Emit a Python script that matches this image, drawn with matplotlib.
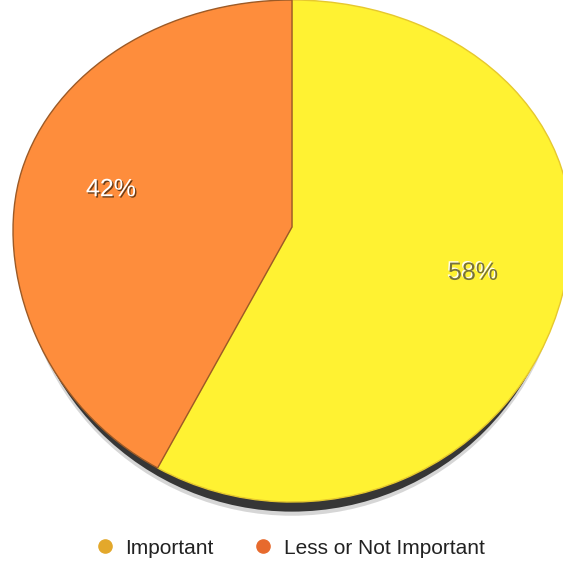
import matplotlib.pyplot as plt
import matplotlib.patches as mpatches
import matplotlib.patheffects as pe
from matplotlib.lines import Line2D
import numpy as np

labels = ['Important', 'Less or Not Important']
values = [58, 42]
slice_colors = ['#FFF232', '#FE8D3C']
edge_colors = ['#e6c82e', '#9c5a26']
legend_colors = ['#E3A82B', '#E76A2D']

plt.rcParams['font.family'] = ['Liberation Sans', 'DejaVu Sans']

fig = plt.figure(figsize=(5.63, 5.64), dpi=100)
ax = fig.add_axes([13 / 563, 1 - 502 / 564, 558 / 563, 502 / 564])

# tilted pie: the half nearer the viewer is stretched more than the far half
stretch = 275 / 227


def fwd(y):
    y = np.asarray(y, dtype=float)
    return np.where(y > 0, y, y * stretch)


def inv(y):
    y = np.asarray(y, dtype=float)
    return np.where(y > 0, y, y / stretch)


# drop shadow under the disc, only peeking out at the front
for dy, a in [(-0.05, 0.2), (-0.035, 1.0)]:
    ax.add_patch(mpatches.Ellipse((0, dy), 1.955, 2.0, facecolor='#363636', edgecolor='none',
                                  alpha=a, zorder=0, clip_on=False))

wedges, texts, autotexts = ax.pie(
    values, colors=slice_colors, startangle=90, counterclock=False,
    autopct='%.0f%%', pctdistance=0.67,
    wedgeprops=dict(linewidth=1.0),
    textprops=dict(fontsize=18))

for w, ec in zip(wedges, edge_colors):
    w.set_edgecolor(ec)
    w.set_clip_on(False)

autotexts[0].set_color('#77723a')
autotexts[0].set_path_effects([pe.withSimplePatchShadow(offset=(-1, 1), shadow_rgbFace='white', alpha=0.9)])
autotexts[1].set_color('white')
autotexts[1].set_path_effects([pe.withSimplePatchShadow(offset=(1, -1), shadow_rgbFace='#5a3414', alpha=0.9)])

ax.set_yscale('function', functions=(fwd, inv))
ax.set_aspect('auto')
ax.set_xlim(-1, 1)
ax.set_ylim(-1, 1)
ax.axis('off')

handles = [Line2D([], [], marker='o', linestyle='none', markersize=9.5,
                  markerfacecolor=c, markeredgecolor=c) for c in legend_colors]
fig.legend(handles, labels, loc='center', bbox_to_anchor=(0.514, 0.028), ncol=2,
           frameon=False, fontsize=15, handlelength=1, handletextpad=0.5,
           columnspacing=1.85, labelcolor='#222222')

fig.savefig('out.png', dpi=100)
